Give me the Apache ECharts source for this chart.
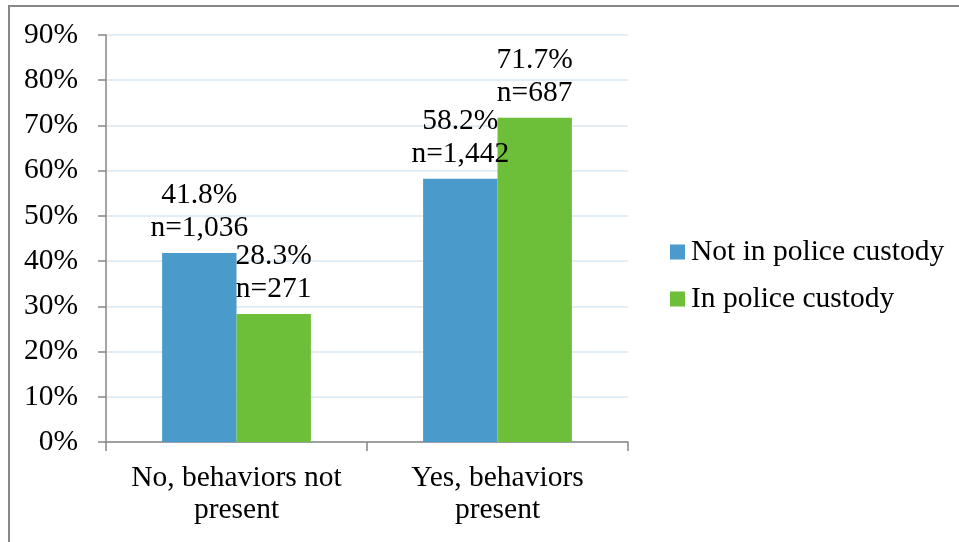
<!DOCTYPE html>
<html>
<head>
<meta charset="utf-8">
<script src="https://cdn.jsdelivr.net/npm/echarts@6/dist/echarts.min.js"></script>
<style>
  html, body { margin: 0; padding: 0; background: #fff; }
  #chart { width: 959px; height: 542px; }
</style>
</head>
<body>
<div id="chart"></div>
<script>
// Share of cases by presence of behaviors, split by custody status
const categories = ['No, behaviors not\npresent', 'Yes, behaviors\npresent'];
const seriesNames = ['Not in police custody', 'In police custody'];
const notInCustodyPct = [41.8, 58.2];
const inCustodyPct = [28.3, 71.7];
const notInCustodyN = [1036, 1442];
const inCustodyN = [271, 687];
const yTicks = [0, 10, 20, 30, 40, 50, 60, 70, 80, 90];

const FONT = "'Liberation Serif', 'Times New Roman', serif";
const TEXT_SIZE = 29.5;
const AXIS_GREY = '#868686';

function labelFor(counts) {
  return function (p) {
    return p.value.toFixed(1) + '%\nn=' + counts[p.dataIndex].toLocaleString('en-US');
  };
}

const chart = echarts.init(document.getElementById('chart'), null, { renderer: 'canvas' });

chart.setOption({
  animation: false,
  backgroundColor: '#ffffff',
  textStyle: { fontFamily: FONT, color: '#000' },
  graphic: [{
    type: 'rect',
    shape: { x: 9, y: 6, width: 980, height: 560 },
    style: { fill: 'none', stroke: '#878787', lineWidth: 2 },
    silent: true,
    z: 100
  }],
  grid: { left: 106, right: 331, top: 35, bottom: 100, containLabel: false },
  legend: {
    orient: 'vertical',
    left: 670,
    top: 236,
    padding: 0,
    itemWidth: 15,
    itemHeight: 15,
    itemGap: 15,
    icon: 'rect',
    data: seriesNames,
    textStyle: { fontFamily: FONT, fontSize: TEXT_SIZE, color: '#000', padding: [0, 0, 0, 1], lineHeight: 32 }
  },
  xAxis: {
    type: 'category',
    data: categories,
    boundaryGap: true,
    axisLine: { lineStyle: { color: AXIS_GREY, width: 1.5 } },
    axisTick: { show: true, length: 9, inside: false, alignWithLabel: false, lineStyle: { color: AXIS_GREY, width: 1.5 } },
    axisLabel: { fontFamily: FONT, fontSize: TEXT_SIZE, color: '#000', lineHeight: 32, margin: 20, interval: 0 },
    splitLine: { show: false }
  },
  yAxis: {
    type: 'value',
    min: yTicks[0],
    max: yTicks[yTicks.length - 1],
    interval: 10,
    axisLine: { show: true, lineStyle: { color: AXIS_GREY, width: 1.5 } },
    axisTick: { show: true, length: 8, lineStyle: { color: AXIS_GREY, width: 1.5 } },
    axisLabel: { fontFamily: FONT, fontSize: TEXT_SIZE, color: '#000', margin: 28, formatter: '{value}%' },
    splitLine: { show: true, lineStyle: { color: '#DAE7F2', width: 1.5 } }
  },
  series: [
    {
      name: seriesNames[0],
      type: 'bar',
      data: notInCustodyPct,
      barGap: '0%',
      barCategoryGap: '43%',
      itemStyle: { color: '#4A9BCB' },
      label: {
        show: true, position: 'top', distance: 8,
        fontFamily: FONT, fontSize: TEXT_SIZE, color: '#000', lineHeight: 33,
        formatter: labelFor(notInCustodyN)
      }
    },
    {
      name: seriesNames[1],
      type: 'bar',
      data: inCustodyPct,
      barGap: '0%',
      barCategoryGap: '43%',
      itemStyle: { color: '#6DBF3A' },
      label: {
        show: true, position: 'top', distance: 8,
        fontFamily: FONT, fontSize: TEXT_SIZE, color: '#000', lineHeight: 33,
        formatter: labelFor(inCustodyN)
      }
    }
  ]
});
</script>
</body>
</html>
